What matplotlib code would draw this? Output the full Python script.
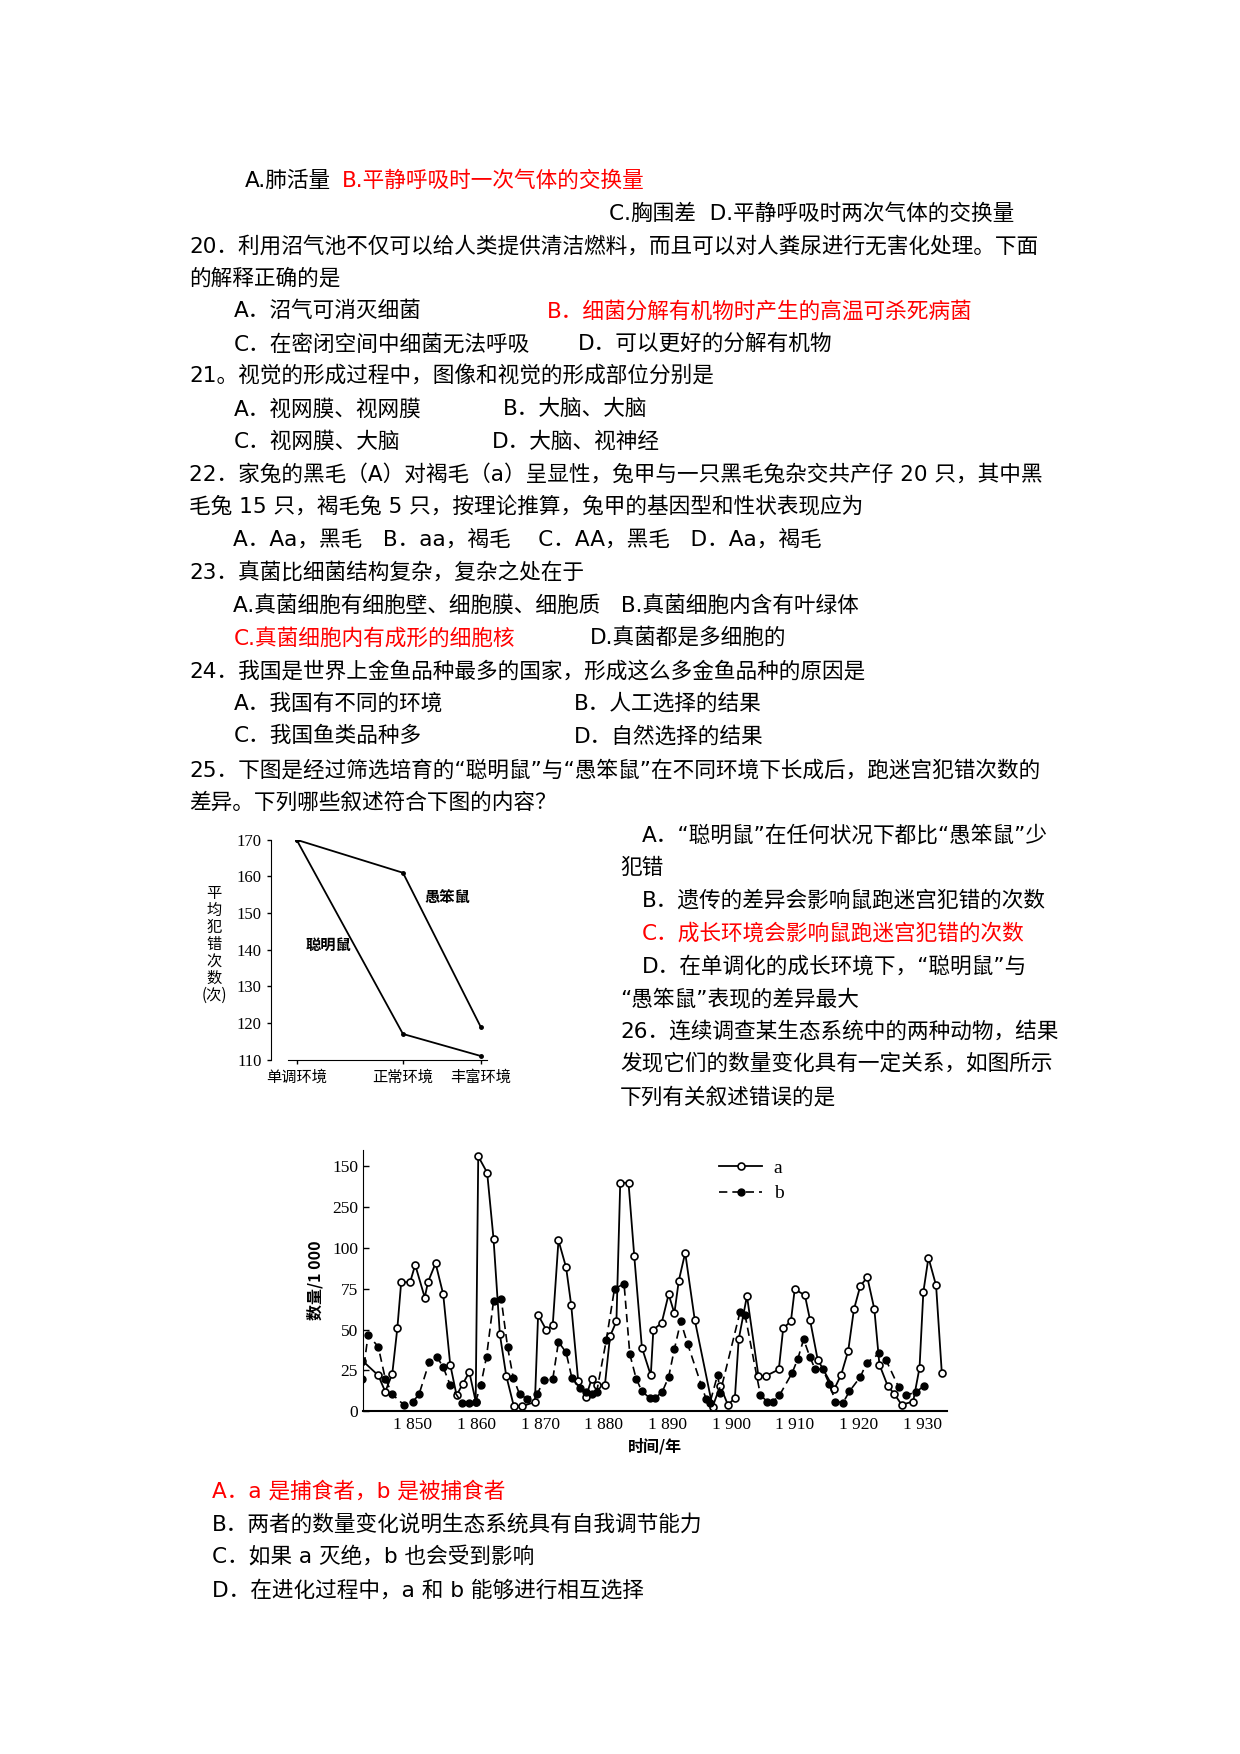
import matplotlib

matplotlib.use("Agg")

import matplotlib.pyplot as plt

plt.rcParams["font.family"] = ["DejaVu Sans", "Noto Sans CJK SC"]

# layout was measured on a 1100 x 1556 view of the page
PW, PH = 1100.0, 1556.0

# --- maze chart data ---
envs = ["单调环境", "正常环境", "丰富环境"]
env_pos = [0, 1, 1.73]
smart_errors = [170, 117, 111]
dull_errors = [170, 161, 119]
maze_yticks = [110, 120, 130, 140, 150, 160, 170]

# --- population chart data ---
a_years = [1842.1, 1844.6, 1845.7, 1846.8, 1847.6, 1848.2, 1849.6, 1850.4, 1851.9, 1852.4,
           1853.6, 1854.8, 1855.9, 1856.9,
           1857.9, 1858.9, 1859.9, 1860.3, 1861.7, 1862.7, 1863.7, 1864.7, 1865.9, 1867.1,
           1869.2, 1869.7, 1871.0, 1872.0, 1872.9, 1874.1, 1874.9, 1876.0, 1877.2, 1878.1,
           1878.9, 1880.2, 1881.0, 1882.0, 1882.6, 1883.9, 1884.8, 1886.0, 1887.4, 1887.8,
           1889.1, 1890.2, 1891.1, 1891.8, 1892.8, 1894.3, 1897.1, 1898.3, 1899.5, 1900.6,
           1901.2, 1902.5, 1904.3, 1905.5, 1907.5, 1908.2, 1909.4, 1910.0, 1911.6, 1912.4,
           1913.6, 1916.2, 1917.3, 1918.4, 1919.3, 1920.3, 1921.4, 1922.5, 1923.3, 1924.6,
           1925.6, 1926.8, 1928.6, 1929.6, 1930.2, 1931.0, 1932.2, 1933.1]
a_vals = [31, 22, 12, 23, 51, 79, 79, 89.6, 69.6, 79,
          90.6, 71.6, 28.6, 9.8,
          17, 24, 6, 156, 146, 105.6, 47, 21.7, 3, 3,
          5.7, 59, 49.7, 52.8, 104.6, 88, 65, 18.6, 8.8, 19.6,
          16, 16.4, 46, 55, 139.8, 139.8, 95, 39, 22, 50,
          54, 71.6, 60, 80, 97, 56, 2.7, 15.6, 4, 8,
          44, 70.6, 21.7, 21.7, 25.6, 51, 55, 74.7, 71, 56,
          31.7, 13.5, 22.5, 37, 62.4, 76.7, 82, 62.6, 28.6, 15.6,
          10.8, 4, 6, 26.6, 73, 94, 77, 23.5]
b_years = [1842.1, 1843.0, 1844.6, 1845.7, 1846.8, 1848.6, 1850.0, 1851.0, 1852.6, 1853.8,
           1854.8, 1855.9, 1857.7, 1858.9, 1859.9, 1860.7, 1861.6, 1862.7, 1863.9, 1864.9,
           1865.8, 1866.8, 1867.9, 1869.6, 1870.6, 1872.0, 1872.9, 1874.1, 1875.0, 1876.3,
           1877.2, 1878.1, 1878.9, 1880.4, 1881.7, 1883.2, 1884.1, 1885.1, 1886.0, 1887.2,
           1888.1, 1889.2, 1890.2, 1891.1, 1892.1, 1893.2, 1895.3, 1896.1, 1896.7, 1897.9,
           1898.3, 1901.4, 1902.2, 1904.6, 1905.7, 1906.6, 1907.6, 1909.6, 1910.5, 1911.4,
           1912.4, 1913.2, 1914.4, 1915.4, 1916.4, 1917.6, 1918.6, 1920.3, 1921.3, 1923.3,
           1924.3, 1926.3, 1927.5, 1929.1, 1930.3]
b_vals = [20, 46.7, 39.5, 20, 10.4, 4, 5.7, 10.4, 30, 33.4,
          27, 16, 5.3, 5.3, 6, 16, 33.4, 67.5, 69, 39.5,
          20.5, 10.4, 7.8, 10.8, 19, 19.6, 42.5, 36, 20.5, 14.3,
          11.9, 10.8, 11.9, 43.4, 75, 78, 35, 20, 12.3, 8.2,
          8.2, 11.9, 21, 38, 55, 41, 16.4, 7.4, 5.3, 22.5,
          11.5, 60.6, 59, 10.2, 5.7, 6, 9.8, 23.5, 32.3, 44,
          33.1, 25.8, 25.8, 17, 6, 5.3, 12.3, 21, 29.7, 35.4,
          31.7, 15, 9.8, 11.9, 15.6]
pop_yticks = [0, 25, 50, 75, 100, 125, 150]
pop_ylabels = ["0", "25", "50", "75", "100", "250", "150"]
pop_xticks = [1850, 1860, 1870, 1880, 1890, 1900, 1910, 1920, 1930]

fig = plt.figure(figsize=(12.4, 17.54), dpi=100, facecolor="white")

FS = 15.6
RED = "#ff0000"


def put(x, y, s, color="black", size=FS, weight="normal"):
    fig.text(x / PW, 1 - y / PH, s, color=color, fontsize=size, fontweight=weight,
             ha="left", va="center")


put(217, 160, "A.肺活量")
put(303, 160, "B.平静呼吸时一次气体的交换量", RED)
put(540, 189, "C.胸围差  D.平静呼吸时两次气体的交换量")
put(168, 218, "20．利用沼气池不仅可以给人类提供清洁燃料，而且可以对人粪尿进行无害化处理。下面")
put(168, 247, "的解释正确的是")
put(207, 276, "A．沼气可消灭细菌")
put(485, 276, "B．细菌分解有机物时产生的高温可杀死病菌", RED)
put(207, 305, "C．在密闭空间中细菌无法呼吸")
put(513, 305, "D．可以更好的分解有机物")
put(168, 334, "21。视觉的形成过程中，图像和视觉的形成部位分别是")
put(207, 363, "A．视网膜、视网膜")
put(446, 363, "B．大脑、大脑")
put(207, 392, "C．视网膜、大脑")
put(436, 392, "D．大脑、视神经")
put(168, 421, "22．家兔的黑毛（A）对褐毛（a）呈显性，兔甲与一只黑毛兔杂交共产仔 20 只，其中黑")
put(168, 450, "毛兔 15 只，褐毛兔 5 只，按理论推算，兔甲的基因型和性状表现应为")
put(207, 479, "A．Aa，黑毛   B．aa，褐毛    C．AA，黑毛   D．Aa，褐毛")
put(168, 508, "23．真菌比细菌结构复杂，复杂之处在于")
put(207, 537, "A.真菌细胞有细胞壁、细胞膜、细胞质   B.真菌细胞内含有叶绿体")
put(207, 566, "C.真菌细胞内有成形的细胞核", RED)
put(523, 566, "D.真菌都是多细胞的")
put(168, 595, "24．我国是世界上金鱼品种最多的国家，形成这么多金鱼品种的原因是")
put(207, 624, "A．我国有不同的环境")
put(509, 624, "B．人工选择的结果")
put(207, 653, "C．我国鱼类品种多")
put(509, 653, "D．自然选择的结果")
put(168, 683, "25．下图是经过筛选培育的“聪明鼠”与“愚笨鼠”在不同环境下长成后，跑迷宫犯错次数的")
put(168, 712, "差异。下列哪些叙述符合下图的内容？")
put(569, 741, "A．“聪明鼠”在任何状况下都比“愚笨鼠”少")
put(550, 770, "犯错")
put(569, 799, "B．遗传的差异会影响鼠跑迷宫犯错的次数")
put(569, 828, "C．成长环境会影响鼠跑迷宫犯错的次数", RED)
put(569, 857, "D．在单调化的成长环境下，“聪明鼠”与")
put(550, 886, "“愚笨鼠”表现的差异最大")
put(550, 915, "26．连续调查某生态系统中的两种动物，结果")
put(550, 944, "发现它们的数量变化具有一定关系，如图所示")
put(550, 973, "下列有关叙述错误的是")
put(188, 1323, "A．a 是捕食者，b 是被捕食者", RED)
put(188, 1352, "B．两者的数量变化说明生态系统具有自我调节能力")
put(188, 1381, "C．如果 a 灭绝，b 也会受到影响")
put(188, 1410, "D．在进化过程中，a 和 b 能够进行相互选择")

SERIF = ["Liberation Serif", "Noto Sans CJK SC"]


def axes_at(left, top, right, bottom):
    return fig.add_axes([left / PW, 1 - bottom / PH, (right - left) / PW, (bottom - top) / PH])


# --- maze chart ---
ax1 = axes_at(240, 745, 432, 940)
ax1.plot(env_pos, smart_errors, color="black", lw=1.3, marker="o", ms=2.5)
ax1.plot(env_pos, dull_errors, color="black", lw=1.3, marker="o", ms=2.5)
ax1.set_xlim(-0.245, 1.79)
ax1.set_ylim(110, 170)
ax1.set_yticks(maze_yticks)
ax1.set_yticklabels([str(v) for v in maze_yticks], family=SERIF, fontsize=12)
ax1.set_xticks(env_pos)
ax1.set_xticklabels(envs, family=["Noto Sans CJK SC"], fontsize=11)
ax1.tick_params(direction="out", length=3, width=1)
for sp in ["top", "right"]:
    ax1.spines[sp].set_visible(False)
ax1.spines["bottom"].set_bounds(-0.08, 1.79)
ax1.text(0.08, 140, "聪明鼠", family=["Noto Sans CJK SC"], fontsize=11, weight="bold")
ax1.text(1.2, 153, "愚笨鼠", family=["Noto Sans CJK SC"], fontsize=11, weight="bold")
fig.text(190 / PW, 1 - 838 / PH, "平\n均\n犯\n错\n次\n数\n(次)", family=["Noto Sans CJK SC"],
         fontsize=11, ha="center", va="center", linespacing=1.0)

# --- population chart ---
ax2 = axes_at(322, 1020, 840, 1252)
ax2.plot(a_years, a_vals, color="black", lw=1.3, marker="o", ms=5,
         mfc="white", mec="black", mew=1.2, label="a")
ax2.plot(b_years, b_vals, color="black", lw=1.2, ls=(0, (5, 3)), marker="o", ms=5,
         mfc="black", mec="black", label="b")
ax2.set_xlim(1842.2, 1933.9)
ax2.set_ylim(0, 160)
ax2.set_yticks(pop_yticks)
ax2.set_yticklabels(pop_ylabels, family=SERIF, fontsize=12.5)
ax2.set_xticks(pop_xticks)
ax2.set_xticklabels([f"{v // 1000} {v % 1000}" for v in pop_xticks], family=SERIF, fontsize=12.5)
ax2.tick_params(axis="y", direction="in", length=4, width=1)
ax2.tick_params(axis="x", length=0, pad=4)
for sp in ["top", "right"]:
    ax2.spines[sp].set_visible(False)
ax2.spines["bottom"].set_linewidth(1.5)
ax2.set_ylabel("数量/1 000", family=["Noto Sans CJK SC"], fontsize=11.5, weight="bold", labelpad=6)
ax2.set_xlabel("时间/年", family=["Noto Sans CJK SC"], fontsize=11.5, weight="bold", labelpad=4)
ax2.legend(loc="upper left", bbox_to_anchor=(0.58, 1.03), frameon=False,
           prop={"family": SERIF, "size": 14}, handlelength=2.2, handletextpad=0.6,
           labelspacing=0.4)

fig.savefig("out.png", dpi=100, facecolor="white")
